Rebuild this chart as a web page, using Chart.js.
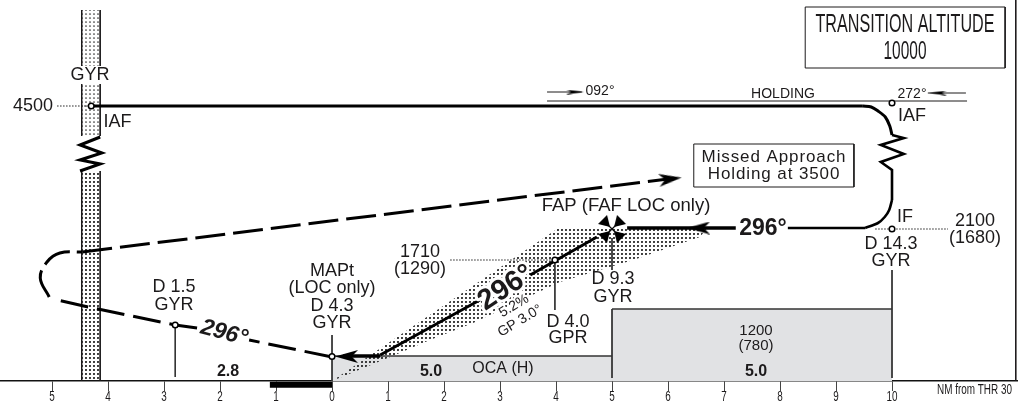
<!DOCTYPE html>
<html>
<head>
<meta charset="utf-8">
<style>html,body{margin:0;padding:0;background:#fff}canvas{display:block}</style>
<script src="https://cdn.jsdelivr.net/npm/chart.js@4/dist/chart.umd.min.js"></script>
</head>
<body>
<canvas id="c" width="1018" height="405"></canvas>
<script>
// ---------- Data: x in NM from threshold (negative = beyond threshold), y = profile height above the NM axis ----------
const tickValues = [-5,-4,-3,-2,-1,0,1,2,3,4,5,6,7,8,9,10];

const ocaLowX = [0,5],            ocaLowH = [25,25];
const ocaHighX = [5,10],          ocaHighH = [72,72];

const glideTopX = [0,4.07,6.70],  glideTopH = [0,154,154];
const glideLowX = [0,1.04,1.75,2.52,4.07,5.38,6.57,6.70];
const glideLowH = [0,24,41,58,99,121,144,153];

const beaconX = [-4.47,-4.14];
const beaconUpperH = [371,371], beaconUpperEnd = 245;
const beaconLowerH = [210,210], beaconLowerEnd = 0;

const initialX = [-4.30,9.48],    initialH = [275,275];
const turnInX = [9.48,9.63,9.75,9.88,9.96,10.0], turnInH = [275,274,270,264,255,246];
const reversalRightX = [10.0,10.21,9.80,10.21,9.80,10.0,10.0];
const reversalRightH = [246,243,236,227,219,211,181];
const reversalLeftX = [-4.14,-4.50,-4.11,-4.50,-4.14,-4.50];
const reversalLeftH = [244,236,228,221,217,210];
const turnFinalX = [10.0,9.95,9.87,9.75,9.52], turnFinalH = [181,171,164,158,153];
const intermediateAX = [9.52,8.14],  intermediateAH = [153,153];
const intermediateBX = [7.21,5.27],  intermediateBH = [153,153];
const descentUpperX = [4.73,3.54],   descentUpperH = [144,106];
const descentLowerX = [2.64,0.86],   descentLowerH = [81,26];
const thresholdLegX = [0.86,0.2],    thresholdLegH = [25,25];

const missedAX = [0,-1.48],          missedAH = [24,41];
const missedBX = [-2.41,-2.80,-4.27,-4.91], missedBH = [53,56,73,81];
const missedTurnX = [-5.05,-5.21,-5.09,-4.86,-4.46], missedTurnH = [84,103,119,128,129];
const missedOutX = [-4.46,6.0],      missedOutH = [129,202];

const holdX = [3.84,11.34],          holdH = [280,280];
const holdInX = [3.84,4.46],         holdInH = [289,289];
const holdOutX = [10.64,11.32],      holdOutH = [288,288];

const alt4500X = [-4.91,-4.36],      alt4500H = [275,275];
const alt1710X = [2.11,3.93],        alt1710H = [121,121];
const alt2100X = [9.70,11.0],        alt2100H = [152,152];

const leaderX = [-2.80,0,3.98,5,5,10];
const leaderTop = [53,46,119,143,72,111];
const leaderEnd = [4,0,71,111,3,3];

const fixX = [-4.30,10.0,-2.80,0,3.98,10.0];
const fixH = [275,278,56,24.5,121,152];
const fapX = [5.0], fapH = [152];

const arrowX = [6.04,0.26,6.55,4.34,10.82];
const arrowH = [202,24.5,153,289,288];
const arrowTurn = [-7,180,180,0,180];

const scaleBarX = [-1.11,0], scaleBarH = [-3.7,-3.7];
const frameX = [12.21,12.21], frameH = [381,0];
const transBoxX = [8.45,12.02,12.02,8.45,8.45], transBoxH = [374,374,313,313,374];
const missBoxX = [6.46,9.32,9.32,6.46,6.46],   missBoxH = [237,237,194,194,237];

// ---------- Helpers ----------
const INK = '#1c1a1b';
const pts = (xs,ys) => xs.map((x,i)=>({x,y:ys[i]}));
function dots(radius,step,color){
  const c=document.createElement('canvas');c.width=c.height=step;
  const g=c.getContext('2d');g.fillStyle=color;
  g.beginPath();g.arc(step/2,step/2,radius,0,Math.PI*2);g.fill();
  return document.createElement('canvas').getContext('2d').createPattern(c,'repeat');
}
function arrowImg(len,wid){
  const c=document.createElement('canvas');c.width=len;c.height=wid;
  const g=c.getContext('2d');g.fillStyle='#000';
  g.beginPath();g.moveTo(len,wid/2);g.lineTo(0,0);g.lineTo(len*0.28,wid/2);g.lineTo(0,wid);g.closePath();g.fill();
  return c;
}
function crossImg(){
  const s=30,c=document.createElement('canvas');c.width=c.height=s;
  const g=c.getContext('2d');g.translate(s/2,s/2);
  g.strokeStyle='#000';g.lineWidth=1.2;
  g.beginPath();g.moveTo(-6,-6);g.lineTo(6,6);g.moveTo(6,-6);g.lineTo(-6,6);g.stroke();
  g.fillStyle='#000';
  for(let k=0;k<4;k++){
    g.rotate(Math.PI/2);
    g.beginPath();g.moveTo(-2,-2);g.lineTo(-14,-5);g.lineTo(-5,-14);g.closePath();g.fill();
  }
  return c;
}
const bigArrow=arrowImg(23,13), smallArrow=arrowImg(18,5);
const dotDense=dots(1.05,4,'#111'), dotFine=dots(0.85,4,'#333');

function path(xs,ys,o={}){
  return Object.assign({data:pts(xs,ys),showLine:true,pointRadius:0,borderColor:'#000',borderWidth:3,tension:0,clip:false,order:5,fill:false},o);
}
const thin={borderWidth:1,borderColor:INK,order:10};
const dotted={borderWidth:1,borderColor:'#222',borderDash:[1.5,1.5],order:10};
const dash={borderDash:[28,9],borderWidth:3};

const datasets=[
  path(ocaLowX,ocaLowH,{fill:'origin',backgroundColor:'#e1e2e4',borderColor:'#333',borderWidth:1.5,order:30}),
  path(ocaHighX,ocaHighH,{fill:'origin',backgroundColor:'#e1e2e4',borderColor:'#333',borderWidth:1.5,order:30}),
  path(glideTopX,glideTopH,{fill:{target:'+1',above:dotDense,below:dotDense},borderWidth:0,borderColor:'transparent',order:25}),
  path(glideLowX,glideLowH,{borderWidth:0,borderColor:'transparent',order:26}),
  path(beaconX,beaconUpperH,{fill:{value:beaconUpperEnd},backgroundColor:dotFine,borderWidth:0,borderColor:'transparent',order:24}),
  path(beaconX,beaconLowerH,{fill:{value:beaconLowerEnd},backgroundColor:dotDense,borderWidth:0,borderColor:'transparent',order:24}),
  path([beaconX[0],beaconX[0]],[beaconUpperH[0],beaconUpperEnd],thin),
  path([beaconX[1],beaconX[1]],[beaconUpperH[0],beaconUpperEnd],thin),
  path([beaconX[0],beaconX[0]],[beaconLowerH[0],beaconLowerEnd],thin),
  path([beaconX[1],beaconX[1]],[beaconLowerH[0],beaconLowerEnd],thin),
  path(initialX,initialH),
  path(turnInX,turnInH,{tension:0.3}),
  path(reversalRightX,reversalRightH,{borderWidth:2.6}),
  path(reversalLeftX,reversalLeftH,{borderWidth:3}),
  path(turnFinalX,turnFinalH,{tension:0.3,borderWidth:2.6}),
  path(intermediateAX,intermediateAH,{borderWidth:2.6}),
  path(intermediateBX,intermediateBH,{borderWidth:3.6}),
  path(descentUpperX,descentUpperH),
  path(descentLowerX,descentLowerH),
  path(thresholdLegX,thresholdLegH,{borderWidth:3.6}),
  path(missedAX,missedAH,dash),
  path(missedBX,missedBH,dash),
  path(missedTurnX,missedTurnH,Object.assign({tension:0.4},dash,{borderDash:[29,7]})),
  path(missedOutX,missedOutH,Object.assign({},dash,{borderDash:[30,8]})),
  path(holdX,holdH,thin),
  path(holdInX,holdInH,thin),
  path(holdOutX,holdOutH,thin),
  path(alt4500X,alt4500H,dotted),
  path(alt1710X,alt1710H,dotted),
  path(alt2100X,alt2100H,dotted),
  ...leaderX.map((x,i)=>path([x,x],[leaderTop[i],leaderEnd[i]],{borderWidth:1,borderColor:'#333',order:9})),
  path(scaleBarX,scaleBarH,{borderWidth:6}),
  path(frameX,frameH,thin),
  path(transBoxX,transBoxH,thin),
  path(missBoxX,missBoxH,{borderWidth:1,borderColor:INK,order:3}),
  {data:pts(arrowX,arrowH),showLine:false,clip:false,order:2,
   pointStyle:[bigArrow,bigArrow,bigArrow,smallArrow,smallArrow],pointRotation:arrowTurn,pointRadius:8},
  {data:pts(fapX,fapH),showLine:false,clip:false,order:2,pointStyle:crossImg(),pointRadius:15},
  {data:pts(fixX,fixH),showLine:false,clip:false,order:1,pointStyle:'circle',pointRadius:2.8,
   pointBackgroundColor:'#fff',pointBorderColor:'#000',pointBorderWidth:1.5}
];

// ---------- Text layout (page pixels) ----------
const S='"Liberation Sans",Arial,sans-serif';
const notes=[
 {t:'GYR',x:90,y:75,s:18,wipe:[70,66,42,18]},
 {t:'4500',x:33,y:106,s:18},
 {t:'IAF',x:117.5,y:122,s:18},
 {t:'IAF',x:912,y:116,s:18},
 {t:'IF',x:905,y:217,s:18},
 {t:'2100',x:975,y:221,s:18},
 {t:'(1680)',x:975,y:238,s:18},
 {t:'D 14.3',x:891,y:244,s:18},
 {t:'GYR',x:891,y:261,s:18},
 {t:'1200',x:756,y:331,s:15},
 {t:'(780)',x:756,y:346,s:15},
 {t:'5.0',x:756,y:372,s:16,w:'bold'},
 {t:'5.0',x:431,y:372,s:16,w:'bold'},
 {t:'OCA (H)',x:503,y:369,s:16},
 {t:'2.8',x:228,y:372,s:16,w:'bold'},
 {t:'D 1.5',x:174,y:287,s:18},
 {t:'GYR',x:174,y:305,s:18},
 {t:'MAPt',x:332,y:271,s:18},
 {t:'(LOC only)',x:332,y:288,s:18},
 {t:'D 4.3',x:332,y:306,s:18},
 {t:'GYR',x:332,y:323,s:18},
 {t:'1710',x:420,y:252,s:18},
 {t:'(1290)',x:420,y:269,s:18},
 {t:'D 4.0',x:568,y:322,s:18},
 {t:'GPR',x:568,y:338,s:18},
 {t:'D 9.3',x:613,y:279,s:18},
 {t:'GYR',x:613,y:297,s:18},
 {t:'FAP (FAF LOC only)',x:626,y:206,s:18.5,halo:2},
 {t:'296°',x:506,y:288,s:29,w:'bold',r:-33,halo:3},
 {t:'5.2%',x:514,y:306,s:14,r:-31,halo:2},
 {t:'GP 3.0°',x:520,y:321,s:14,r:-31,halo:2},
 {t:'296°',x:763,y:229,s:23,w:'bold'},
 {t:'296°',x:224,y:333,s:23,w:'bold italic',r:15},
 {t:'TRANSITION ALTITUDE',x:905,y:25,s:25,mw:179},
 {t:'10000',x:905,y:52,s:25,mw:43},
 {t:'Missed Approach',x:774,y:157,s:17,ls:'0.9px'},
 {t:'Holding at 3500',x:774,y:174,s:17,ls:'0.9px'},
 {t:'HOLDING',x:783,y:94,s:14},
 {t:'272°',x:912,y:94,s:14},
 {t:'092°',x:600,y:91,s:14},
 {t:'NM from THR 30',x:974.5,y:390,s:14,mw:75}
];
function writeNote(g,n){
  g.save();
  g.translate(n.x,n.y);
  if(n.r)g.rotate(n.r*Math.PI/180);
  g.font=(n.w?n.w+' ':'')+n.s+'px '+S;
  g.textAlign='center';g.textBaseline='middle';
  if('letterSpacing' in g)g.letterSpacing=n.ls||'0px';
  if(n.halo){g.strokeStyle='#fff';g.lineWidth=n.halo*2;g.lineJoin='round';g.strokeText(n.t,0,0);}
  g.fillStyle=INK;
  if(n.mw)g.fillText(n.t,0,0,n.mw);else g.fillText(n.t,0,0);
  g.restore();
}
const textPlugin={id:'notes',afterDatasetsDraw(chart){
  const g=chart.ctx;
  notes.forEach(n=>{
    if(n.wipe){g.fillStyle='#fff';g.fillRect(...n.wipe);}
    writeNote(g,n);
  });
  const sx=chart.scales.x;
  sx.ticks.forEach((tk,i)=>writeNote(g,{t:String(tk.label),x:sx.getPixelForTick(i),y:397,s:14,mw:5.5*String(tk.label).length}));
}};

new Chart(document.getElementById('c'),{
  type:'scatter',
  data:{datasets},
  plugins:[textPlugin],
  options:{
    responsive:false,animation:false,devicePixelRatio:1,
    layout:{padding:0,autoPadding:false},
    plugins:{legend:{display:false},tooltip:{enabled:false}},
    scales:{
      x:{type:'linear',min:-5.929,max:12.25,position:'bottom',
        afterBuildTicks(s){s.ticks=tickValues.map(value=>({value}));},
        afterFit(s){s.height=24;s.paddingLeft=0;s.paddingRight=0;},
        border:{display:true,color:'#111',width:1.5},
        grid:{drawOnChartArea:false,drawTicks:true,tickLength:10,color:'#444',lineWidth:1},
        ticks:{autoSkip:false,maxRotation:0,padding:1,color:'rgba(0,0,0,0)',font:{family:'"Liberation Sans"',size:12},
          callback:v=>String(Math.abs(v))}
      },
      y:{type:'linear',display:false,min:0,max:381}
    }
  }
});
</script>
</body>
</html>
